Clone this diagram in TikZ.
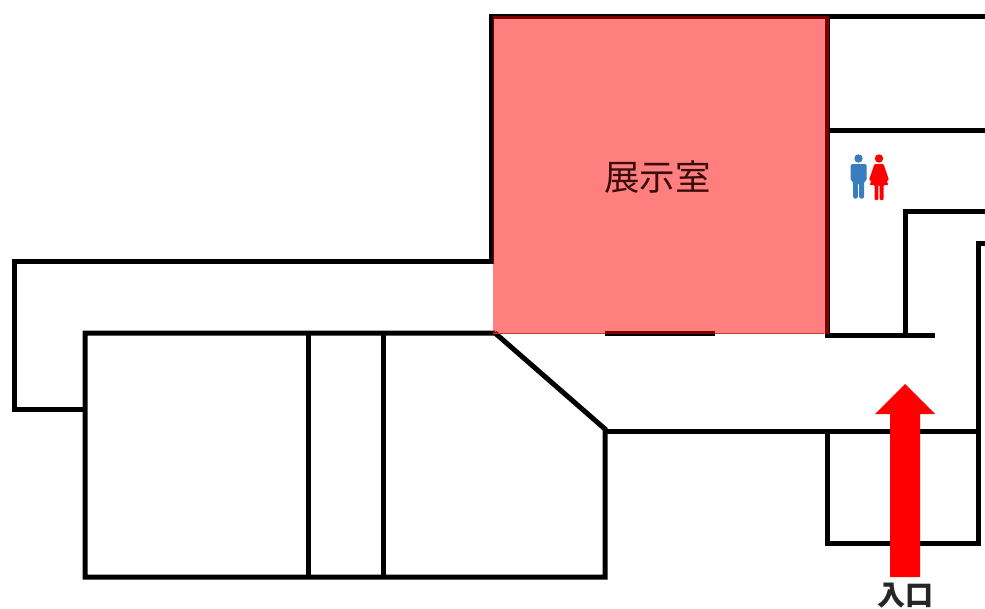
\documentclass[tikz,border=0pt]{standalone}
\usepackage{fontspec}
\newfontfamily\cjk{Noto Sans CJK JP}
\definecolor{manblue}{HTML}{3A7CC0}
\definecolor{roomtext}{HTML}{3A0C0C}
\definecolor{roomedge}{HTML}{C04040}
\begin{document}
\begin{tikzpicture}[x=1pt,y=-1pt,
  wall/.style={draw=black,line width=5pt,line cap=butt,line join=miter},
  roomfill/.style={fill=red,fill opacity=.5,draw=none},
  maleicon/.style={fill=manblue},
  femaleicon/.style={fill=red}]
\useasboundingbox (0,0) rectangle (985,608);
\fill[white] (0,0) rectangle (985,608);
% walls
\draw[wall] (985,16) -- (491,16) -- (491,261) -- (14,261) -- (14,409) -- (85,409);
\draw[wall] (495,333) -- (85,333) -- (85,577) -- (605,577) -- (605,429) -- (495,333);
\draw[wall] (605,431) -- (977,431);
\draw[wall] (308,333) -- (308,577);
\draw[wall] (383,333) -- (383,577);
\draw[wall] (827,16) -- (827,335);
\draw[wall] (827,130) -- (985,130);
\draw[wall] (825,335) -- (935,335);
\draw[wall] (905,335) -- (905,211) -- (985,211);
\draw[wall] (985,243) -- (978,243) -- (978,543) -- (827,543) -- (827,431);
\draw[wall] (605,333) -- (715,333);
% exhibition room
\path[roomfill] (492.5,16) rectangle (829,334);
\draw[roomedge,line width=1pt] (493,333.5) -- (605,333.5);
\draw[roomedge,line width=1pt] (715,333.5) -- (824,333.5);
\node[font=\cjk,inner sep=0pt,text=roomtext] (room) at (657.5,177) {\fontsize{35.5}{36}\selectfont 展示室};
% restroom icons
\begin{scope}[shift={(858.5,0)}]
  \fill[maleicon] (0,158.5) circle (4.2);
  \fill[maleicon,rounded corners=1.5] (-8,164) -- (8,164) -- (8,181) -- (5.5,181) -- (5.5,198.5) -- (0.7,198.5) -- (0.7,183) -- (-0.7,183) -- (-0.7,198.5) -- (-5.5,198.5) -- (-5.5,181) -- (-8,181) -- cycle;
\end{scope}
\begin{scope}[shift={(879,0)}]
  \fill[femaleicon] (0,158.5) circle (4.2);
  \fill[femaleicon,rounded corners=1] (-4.5,164) -- (4.5,164) -- (10,180) -- (7.5,181) -- (9.5,185) -- (4.5,185) -- (4.5,200) -- (0.7,200) -- (0.7,185) -- (-0.7,185) -- (-0.7,200) -- (-4.5,200) -- (-4.5,185) -- (-9.5,185) -- (-7.5,181) -- (-10,180) -- cycle;
\end{scope}
% entrance arrow
\fill[red] (890,577) -- (890,414) -- (875,414) -- (905,384) -- (935,414) -- (920,414) -- (920,577) -- cycle;
\node[font=\cjk\bfseries,inner sep=0pt,text=black!85] (entry) at (905,595.5) {\fontsize{28}{28}\selectfont 入口};
\end{tikzpicture}
\end{document}
